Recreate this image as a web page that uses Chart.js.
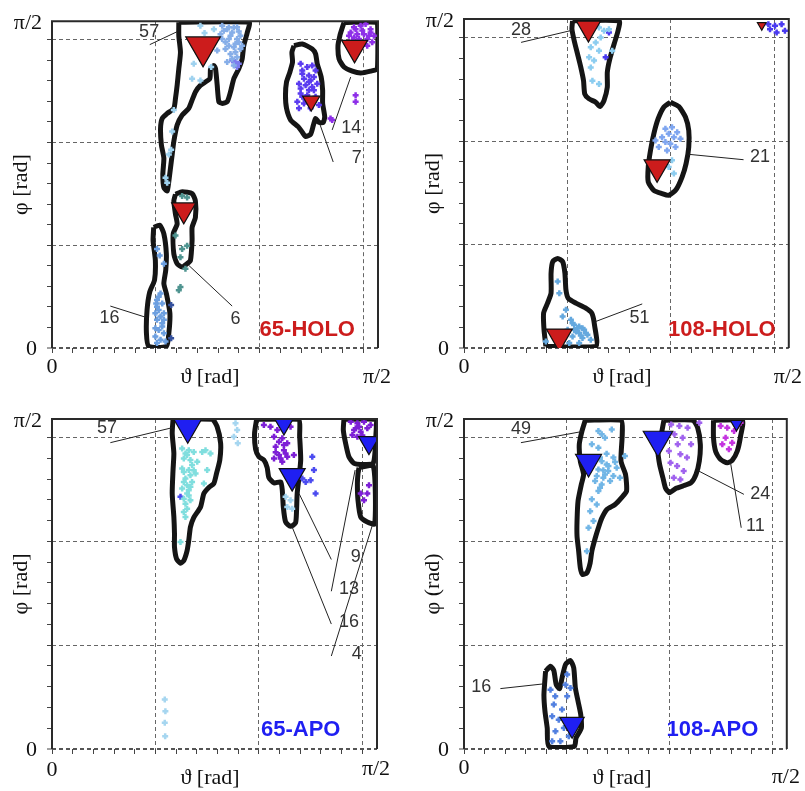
<!DOCTYPE html>
<html>
<head>
<meta charset="utf-8">
<script src="https://cdn.jsdelivr.net/npm/chart.js@4.4.0/dist/chart.umd.min.js"></script>
<style>
  body { margin: 0; background: #fff; }
  #wrap { position: relative; width: 805px; height: 791px; }
  canvas { position: absolute; }
</style>
</head>
<body>
<div id="wrap">
  <canvas id="h65" width="400" height="395" style="left:0;top:0"></canvas>
  <canvas id="h108" width="405" height="395" style="left:400px;top:0"></canvas>
  <canvas id="a65" width="400" height="396" style="left:0;top:395px"></canvas>
  <canvas id="a108" width="405" height="396" style="left:400px;top:395px"></canvas>
</div>
<script>
const HALF_PI = Math.PI / 2;
const Y_TOP = 1.59;
const tickValues = [0, 0.1, 0.2, 0.3, 0.4, 0.5, 0.6, 0.7, 0.8, 0.9, 1.0, 1.1, 1.2, 1.3, 1.4, 1.5];
const gridValues = [0.5, 1.0, 1.5];

// ---- 65-HOLO ----
const h65Contours = [
  [[0.611,1.585],[0.949,1.585],[0.941,1.535],[0.924,1.471],[0.916,1.405],[0.900,1.359],[0.876,1.310],[0.860,1.246],[0.844,1.198],[0.820,1.190],[0.804,1.198],[0.796,1.278],[0.788,1.359],[0.780,1.375],[0.764,1.359],[0.760,1.310],[0.715,1.278],[0.691,1.246],[0.675,1.206],[0.659,1.166],[0.627,1.133],[0.603,1.085],[0.587,1.005],[0.579,0.941],[0.571,0.876],[0.563,0.812],[0.555,0.764],[0.539,0.780],[0.534,0.844],[0.539,0.924],[0.527,0.989],[0.523,1.069],[0.531,1.117],[0.555,1.141],[0.587,1.166],[0.595,1.214],[0.603,1.278],[0.611,1.359],[0.619,1.439],[0.611,1.519]],
  [[0.595,0.748],[0.627,0.760],[0.675,0.751],[0.691,0.715],[0.691,0.635],[0.675,0.587],[0.675,0.523],[0.667,0.426],[0.651,0.410],[0.627,0.394],[0.603,0.410],[0.587,0.458],[0.584,0.555],[0.603,0.603],[0.595,0.651],[0.587,0.715]],
  [[0.490,0.587],[0.519,0.598],[0.539,0.555],[0.551,0.458],[0.548,0.378],[0.539,0.314],[0.551,0.265],[0.568,0.169],[0.563,0.072],[0.551,0.008],[0.466,0.008],[0.455,0.072],[0.458,0.185],[0.471,0.273],[0.494,0.330],[0.498,0.426],[0.487,0.523]],
  [[1.166,1.471],[1.206,1.479],[1.254,1.455],[1.270,1.431],[1.278,1.383],[1.297,1.318],[1.304,1.254],[1.304,1.190],[1.314,1.125],[1.307,1.098],[1.286,1.098],[1.270,1.117],[1.259,1.082],[1.246,1.040],[1.222,1.029],[1.206,1.050],[1.186,1.077],[1.150,1.109],[1.130,1.166],[1.125,1.230],[1.130,1.294],[1.146,1.342],[1.159,1.391],[1.156,1.439]],
  [[1.407,1.584],[1.568,1.584],[1.568,1.359],[1.535,1.347],[1.487,1.338],[1.447,1.347],[1.407,1.367],[1.383,1.407],[1.378,1.471],[1.387,1.519],[1.399,1.559]]
];
const h65LightBlue = [[0.820,1.568],[0.844,1.551],[0.876,1.559],[0.860,1.519],[0.892,1.503],[0.836,1.487],[0.876,1.463],[0.908,1.455],[0.860,1.431],[0.892,1.415],[0.844,1.391],[0.876,1.375],[0.908,1.519],[0.812,1.527],[0.796,1.447],[0.828,1.543],[0.868,1.535],[0.900,1.487],[0.852,1.471],[0.884,1.439],[0.868,1.407],[0.900,1.540],[0.836,1.455],[0.884,1.480],[0.916,1.471],[0.852,1.503],[0.820,1.503],[0.892,1.560],[0.852,1.560]];
const h65Cyan = [[0.715,1.568],[0.735,1.532],[0.780,1.551],[0.683,1.383],[0.675,1.310],[0.715,1.302],[0.767,1.367],[0.587,1.158],[0.579,1.053],[0.574,0.965],[0.563,0.941],[0.555,0.804],[0.547,0.828]];
const h65Violet = [[0.868,1.399],[0.900,1.383],[0.884,1.391],[0.892,1.367]];
const h65Teal = [[0.627,0.740],[0.651,0.732],[0.595,0.547],[0.627,0.482],[0.651,0.498],[0.619,0.442],[0.643,0.386],[0.619,0.297],[0.611,0.281]];
const h65Blue = [[0.506,0.482],[0.519,0.450],[0.539,0.410],[0.523,0.265],[0.506,0.233],[0.531,0.217],[0.514,0.185],[0.539,0.169],[0.506,0.137],[0.531,0.121],[0.514,0.088],[0.539,0.072],[0.523,0.040],[0.506,0.024],[0.547,0.032],[0.498,0.096],[0.523,0.153],[0.502,0.217],[0.514,0.249],[0.498,0.169],[0.531,0.104],[0.498,0.056],[0.539,0.137],[0.506,0.201]];
const h65Navy = [[0.574,0.209],[0.574,0.048]];
const h65Indigo = [[1.198,1.383],[1.230,1.367],[1.254,1.375],[1.206,1.334],[1.238,1.326],[1.262,1.318],[1.190,1.286],[1.222,1.278],[1.254,1.270],[1.278,1.286],[1.198,1.238],[1.230,1.230],[1.270,1.222],[1.182,1.198],[1.214,1.190],[1.286,1.182],[1.190,1.166],[1.246,1.166],[1.214,1.310],[1.246,1.302],[1.206,1.350],[1.238,1.294],[1.262,1.254],[1.198,1.262],[1.222,1.206],[1.254,1.198],[1.206,1.222],[1.238,1.254],[1.270,1.350]];
const h65Purple = [[1.439,1.535],[1.463,1.551],[1.487,1.568],[1.511,1.576],[1.535,1.551],[1.455,1.511],[1.503,1.527],[1.527,1.519],[1.543,1.487],[1.431,1.519],[1.479,1.503],[1.519,1.471],[1.455,1.560],[1.495,1.545],[1.519,1.503],[1.471,1.527],[1.535,1.535],[1.447,1.495],[1.551,1.519],[1.342,1.117],[1.350,1.109],[1.463,1.230],[1.463,1.198]];
const h65Triangles = [[0.728,1.465],[0.635,0.672],[1.249,1.201],[1.458,1.460]];
const h65Callouts = [
  { text: '57', from: [0.471,1.476], to: [0.603,1.539], at: [0.468,1.535] },
  { text: '16', from: [0.281,0.204], to: [0.450,0.150], at: [0.277,0.145] },
  { text: '6',  from: [0.659,0.402], to: [0.868,0.204], at: [0.884,0.141] },
  { text: '7',  from: [1.291,1.088], to: [1.355,0.905], at: [1.468,0.924] },
  { text: '14', from: [1.439,1.318], to: [1.350,1.061], at: [1.442,1.072] }
];

// ---- 108-HOLO ----
const h108Contours = [
  [[0.525,1.581],[0.750,1.581],[0.745,1.533],[0.726,1.469],[0.705,1.396],[0.693,1.332],[0.693,1.260],[0.677,1.196],[0.658,1.167],[0.637,1.188],[0.605,1.204],[0.584,1.228],[0.578,1.292],[0.565,1.356],[0.549,1.421],[0.533,1.485],[0.522,1.541]],
  [[0.998,1.188],[1.039,1.167],[1.071,1.116],[1.087,1.051],[1.087,0.971],[1.074,0.891],[1.055,0.827],[1.026,0.766],[0.990,0.738],[0.958,0.746],[0.918,0.762],[0.891,0.803],[0.891,0.875],[0.902,0.955],[0.918,1.035],[0.939,1.108],[0.966,1.164]],
  [[0.396,0.008],[0.387,0.088],[0.385,0.169],[0.404,0.217],[0.421,0.265],[0.421,0.361],[0.429,0.417],[0.453,0.433],[0.477,0.417],[0.488,0.361],[0.493,0.281],[0.504,0.241],[0.541,0.217],[0.589,0.193],[0.618,0.169],[0.631,0.112],[0.637,0.008]]
];
const h108Cyan = [[0.621,1.565],[0.653,1.549],[0.677,1.533],[0.701,1.541],[0.661,1.501],[0.637,1.477],[0.613,1.453],[0.653,1.437],[0.605,1.405],[0.629,1.389],[0.613,1.356],[0.621,1.292],[0.653,1.276],[0.717,1.437],[1.006,0.907],[0.990,0.875],[1.015,0.843]];
const h108Blue = [[0.974,1.059],[1.006,1.067],[1.031,1.043],[0.990,1.035],[0.958,1.019],[1.015,1.019],[1.047,1.011],[0.974,0.995],[0.998,0.987],[0.942,0.971],[1.023,0.971],[0.982,0.955],[0.926,1.003]];
const h108Sky = [[0.453,0.321],[0.461,0.265],[0.477,0.152],[0.493,0.185],[0.517,0.136],[0.533,0.112],[0.557,0.104],[0.501,0.088],[0.541,0.080],[0.557,0.072],[0.525,0.056],[0.573,0.048],[0.557,0.024],[0.509,0.024],[0.396,0.032],[0.613,0.040],[0.581,0.088],[0.597,0.064],[0.549,0.096],[0.565,0.060],[0.533,0.088],[0.589,0.072],[0.525,0.120],[0.573,0.096]];
const h108Indigo = [[1.472,1.565],[1.504,1.557],[1.536,1.565],[1.512,1.525],[1.552,1.533],[1.480,1.541],[0.701,1.525],[0.685,1.405]];
const h108Triangles = [[0.602,1.546],[0.934,0.873],[0.461,0.055],[1.440,1.560]];
const h108Callouts = [
  { text: '28', from: [0.276,1.477], to: [0.525,1.536], at: [0.276,1.536] },
  { text: '21', from: [1.087,0.936], to: [1.352,0.910], at: [1.432,0.923] },
  { text: '51', from: [0.637,0.128], to: [0.862,0.213], at: [0.849,0.144] }
];

// ---- 65-APO ----
const a65Contours = [
  [[0.585,1.589],[0.774,1.589],[0.798,1.553],[0.815,1.473],[0.811,1.392],[0.795,1.327],[0.782,1.279],[0.758,1.260],[0.734,1.231],[0.718,1.166],[0.685,1.115],[0.669,1.069],[0.661,1.005],[0.653,0.956],[0.637,0.908],[0.621,0.895],[0.602,0.916],[0.592,0.973],[0.592,1.037],[0.589,1.118],[0.581,1.231],[0.585,1.344],[0.589,1.424],[0.581,1.521]],
  [[0.989,1.589],[1.190,1.589],[1.197,1.505],[1.202,1.392],[1.194,1.311],[1.185,1.231],[1.182,1.150],[1.177,1.089],[1.153,1.073],[1.129,1.094],[1.118,1.166],[1.113,1.247],[1.105,1.287],[1.073,1.282],[1.048,1.308],[1.040,1.356],[1.024,1.392],[1.000,1.408],[0.984,1.444],[0.979,1.521]],
  [[1.411,1.589],[1.565,1.589],[1.565,1.505],[1.553,1.379],[1.500,1.371],[1.460,1.376],[1.435,1.408],[1.419,1.473],[1.408,1.537]],
  [[1.484,1.356],[1.553,1.363],[1.560,1.085],[1.524,1.094],[1.492,1.118],[1.479,1.198],[1.476,1.279],[1.479,1.327]]
];
const a65Cyan = [[0.629,1.448],[0.661,1.440],[0.685,1.431],[0.637,1.400],[0.669,1.392],[0.702,1.384],[0.629,1.352],[0.661,1.344],[0.694,1.327],[0.645,1.303],[0.677,1.287],[0.629,1.255],[0.661,1.247],[0.637,1.206],[0.669,1.198],[0.653,1.158],[0.645,1.118],[0.621,0.997],[0.726,1.431],[0.742,1.440],[0.766,1.424],[0.750,1.344],[0.734,1.279],[0.645,1.424],[0.677,1.368],[0.653,1.271],[0.645,1.182],[0.637,1.335],[0.685,1.343],[0.669,1.319],[0.637,1.287],[0.669,1.263],[0.653,1.231],[0.637,1.142],[0.661,1.222],[0.653,1.416]];
const a65Faint = [[0.887,1.569],[0.895,1.537],[0.879,1.505],[0.898,1.473],[0.545,0.239],[0.548,0.182],[0.545,0.126],[0.547,0.061],[1.129,1.215],[1.153,1.198],[1.137,1.166],[1.161,1.158]];
const a65Purple = [[1.024,1.561],[1.056,1.553],[1.089,1.537],[1.153,1.553],[1.073,1.505],[1.113,1.497],[1.137,1.473],[1.081,1.456],[1.121,1.440],[1.097,1.416],[1.137,1.408],[1.073,1.400],[1.113,1.384],[1.169,1.416],[1.097,1.480],[1.121,1.465],[1.081,1.430],[1.105,1.400],[1.129,1.424],[1.444,1.577],[1.476,1.569],[1.508,1.577],[1.460,1.537],[1.492,1.529],[1.524,1.545],[1.476,1.505],[1.508,1.489],[1.452,1.513],[1.540,1.561],[1.484,1.553],[1.500,1.510],[1.468,1.545],[1.532,1.271],[1.492,1.231],[1.524,1.231],[1.508,1.198]];
const a65Blue = [[1.258,1.408],[1.266,1.344],[1.250,1.295],[1.226,1.287],[1.274,1.231],[1.210,1.303],[0.621,1.215]];
const a65Triangles = [[0.656,1.550],[1.121,1.566],[1.161,1.315],[1.532,1.476]];
const a65Callouts = [
  { text: '57', from: [0.282,1.476], to: [0.581,1.548], at: [0.266,1.545] },
  { text: '9',  from: [1.194,1.231], to: [1.350,0.913], at: [1.468,0.924] },
  { text: '13', from: [1.465,1.344], to: [1.350,0.760], at: [1.435,0.771] },
  { text: '16', from: [1.161,1.069], to: [1.350,0.602], at: [1.435,0.610] },
  { text: '4',  from: [1.548,1.077], to: [1.350,0.448], at: [1.473,0.456] }
];

// ---- 108-APO ----
const a108Contours = [
  [[0.590,1.584],[0.764,1.584],[0.770,1.516],[0.764,1.387],[0.786,1.323],[0.791,1.243],[0.767,1.211],[0.735,1.178],[0.695,1.154],[0.670,1.111],[0.654,1.066],[0.638,1.014],[0.622,0.953],[0.614,0.897],[0.598,0.849],[0.577,0.841],[0.566,0.873],[0.558,0.953],[0.550,1.026],[0.550,1.098],[0.555,1.195],[0.571,1.275],[0.582,1.323],[0.566,1.387],[0.561,1.468],[0.574,1.532]],
  [[0.973,1.584],[1.113,1.584],[1.137,1.548],[1.150,1.468],[1.145,1.387],[1.129,1.323],[1.105,1.283],[1.064,1.267],[1.032,1.256],[1.000,1.235],[0.981,1.256],[0.968,1.307],[0.952,1.371],[0.944,1.436],[0.960,1.516]],
  [[1.214,1.584],[1.354,1.584],[1.346,1.508],[1.330,1.436],[1.305,1.391],[1.281,1.379],[1.249,1.395],[1.225,1.432],[1.214,1.500]],
  [[0.397,0.375],[0.421,0.399],[0.437,0.378],[0.449,0.310],[0.465,0.291],[0.477,0.342],[0.494,0.407],[0.518,0.426],[0.534,0.391],[0.542,0.294],[0.555,0.230],[0.568,0.166],[0.571,0.101],[0.545,0.053],[0.537,0.013],[0.413,0.013],[0.405,0.101],[0.394,0.182],[0.389,0.262]]
];
const a108Sky = [[0.654,1.532],[0.719,1.540],[0.686,1.500],[0.622,1.468],[0.654,1.452],[0.694,1.423],[0.727,1.404],[0.670,1.387],[0.703,1.363],[0.743,1.355],[0.654,1.347],[0.686,1.323],[0.727,1.315],[0.759,1.307],[0.638,1.291],[0.670,1.275],[0.711,1.291],[0.654,1.243],[0.622,1.203],[0.646,1.178],[0.614,1.146],[0.606,1.066],[0.630,1.098],[0.598,0.953],[0.783,1.412],[0.670,1.516],[0.735,1.383],[0.662,1.404],[0.678,1.343],[0.694,1.371],[0.646,1.315],[0.678,1.307],[0.702,1.339],[0.662,1.259]];
const a108Violet = [[1.008,1.564],[1.048,1.556],[1.088,1.548],[1.024,1.516],[1.064,1.500],[1.040,1.468],[1.105,1.468],[0.997,1.436],[1.053,1.420],[1.085,1.404],[1.005,1.379],[1.037,1.363],[1.069,1.339],[1.021,1.307],[1.053,1.299],[1.145,1.572]];
const a108Magenta = [[1.249,1.556],[1.281,1.548],[1.314,1.532],[1.273,1.500],[1.305,1.476],[1.257,1.468],[1.289,1.444],[1.330,1.556],[1.346,1.572]];
const a108Blue = [[0.421,0.286],[0.444,0.254],[0.494,0.310],[0.518,0.294],[0.502,0.254],[0.437,0.214],[0.477,0.190],[0.429,0.158],[0.461,0.141],[0.486,0.101],[0.445,0.085],[0.429,0.037],[0.469,0.037],[0.510,0.061],[0.502,0.359]];
const a108Triangles = [[0.606,1.383],[0.944,1.490],[1.326,1.566],[0.526,0.119]];
const a108Callouts = [
  { text: '49', from: [0.277,1.476], to: [0.571,1.529], at: [0.277,1.540] },
  { text: '24', from: [1.137,1.342], to: [1.362,1.227], at: [1.442,1.230] },
  { text: '11', from: [1.297,1.379], to: [1.349,1.066], at: [1.418,1.074] },
  { text: '16', from: [0.177,0.291], to: [0.389,0.314], at: [0.084,0.297] }
];

const RED = '#cc1c1c';
const BLUE = '#1f1ff2';

const toXY = arr => arr.map(([x, y]) => ({ x, y }));

function gridColor(v, isY) {
  if (v === 0) return isY ? '#555' : 'rgba(0,0,0,0)';
  return gridValues.some(g => Math.abs(g - v) < 1e-6) ? '#666' : 'rgba(0,0,0,0)';
}

function axis(isY, size) {
  return {
    type: 'linear',
    min: 0,
    max: isY ? Y_TOP : HALF_PI,
    afterBuildTicks: s => { s.ticks = tickValues.map(v => ({ value: v })); },
    afterFit: s => { if (isY) s.width = size; else s.height = size; },
    ticks: { display: false },
    grid: {
      color: c => gridColor(c.tick ? c.tick.value : -1, isY),
      lineWidth: c => (isY && c.tick && c.tick.value === 0) ? 2 : 1,
      tickColor: '#444',
      tickLength: 5,
      tickWidth: 1,
      tickBorderDash: []
    },
    border: { display: false, dash: [4, 3] }
  };
}

const decor = {
  id: 'decor',
  afterDraw(chart, args, o) {
    const { ctx, chartArea: a, scales: { x, y } } = chart;
    ctx.save();
    ctx.strokeStyle = '#2a2a2a';
    ctx.lineWidth = 2;
    ctx.beginPath();
    ctx.moveTo(a.left, a.bottom);
    ctx.lineTo(a.left, a.top);
    ctx.lineTo(a.right, a.top);
    ctx.lineTo(a.right, a.bottom);
    ctx.stroke();

    ctx.textAlign = 'center';
    ctx.textBaseline = 'middle';
    ctx.font = '18px "Liberation Sans", Arial, sans-serif';
    ctx.fillStyle = '#333';
    o.callouts.forEach(c => ctx.fillText(c.text, x.getPixelForValue(c.at[0]), y.getPixelForValue(c.at[1])));

    ctx.font = 'bold 22px "Liberation Sans", Arial, sans-serif';
    ctx.fillStyle = o.labelColor;
    ctx.fillText(o.label, x.getPixelForValue(o.labelAt[0]), y.getPixelForValue(o.labelAt[1]));

    ctx.font = '22px "Liberation Serif", "Times New Roman", serif';
    ctx.fillStyle = '#111';
    ctx.fillText('0', x.getPixelForValue(0), a.bottom + o.zeroDy);
    ctx.fillText('π/2', x.getPixelForValue(HALF_PI) - 1, a.bottom + o.maxDy);
    ctx.fillText('ϑ [rad]', a.left + 158, a.bottom + 29);
    ctx.textAlign = 'right';
    ctx.fillText('π/2', a.left - 10, a.top + 2);
    ctx.fillText('0', a.left - 15, a.bottom + 1);
    ctx.translate(a.left - 31, (a.top + a.bottom) / 2);
    ctx.rotate(-Math.PI / 2);
    ctx.textAlign = 'center';
    ctx.fillText(o.yTitle, 0, 0);
    ctx.restore();
  }
};

function makePanel(id, p) {
  const datasets = [];
  p.triangles.forEach((t, i) => datasets.push({
    data: toXY([t]),
    pointStyle: 'triangle',
    pointRotation: 180,
    pointRadius: p.triSizes[i],
    pointBackgroundColor: p.triColor,
    pointBorderColor: '#111',
    pointBorderWidth: 1.2,
    order: 0
  }));
  p.callouts.forEach(c => datasets.push({
    data: toXY([c.from, c.to]),
    showLine: true,
    borderColor: '#222',
    borderWidth: 1,
    pointRadius: 0,
    order: 1
  }));
  p.points.forEach(g => datasets.push({
    data: toXY(g.data),
    pointStyle: 'cross',
    pointRadius: 3,
    pointBorderColor: g.color,
    pointBorderWidth: 2.5,
    order: 2
  }));
  p.contours.forEach(c => datasets.push({
    data: toXY(c.concat([c[0]])),
    showLine: true,
    borderColor: '#151515',
    borderWidth: 5,
    borderJoinStyle: 'round',
    tension: 0.2,
    pointRadius: 0,
    order: 3
  }));

  new Chart(document.getElementById(id), {
    type: 'scatter',
    data: { datasets },
    options: {
      responsive: false,
      animation: false,
      events: [],
      layout: { padding: { left: 0, top: p.box.top, right: p.box.right, bottom: 0 } },
      scales: { x: axis(false, p.box.xh), y: axis(true, p.box.left) },
      plugins: {
        legend: { display: false },
        tooltip: { enabled: false },
        decor: {
          callouts: p.callouts,
          label: p.label,
          labelColor: p.triColor,
          labelAt: p.labelAt,
          yTitle: p.yTitle,
          zeroDy: p.zeroDy,
          maxDy: p.maxDy
        }
      }
    },
    plugins: [decor]
  });
}

makePanel('h65', {
  box: { left: 52, top: 17, right: 22, xh: 47 },
  contours: h65Contours,
  points: [
    { data: h65Cyan, color: '#9fd2ef' },
    { data: h65LightBlue, color: '#86aee8' },
    { data: h65Violet, color: '#7c7cee' },
    { data: h65Teal, color: '#4f9490' },
    { data: h65Blue, color: '#6c9fe0' },
    { data: h65Navy, color: '#34509c' },
    { data: h65Indigo, color: '#5b3cf0' },
    { data: h65Purple, color: '#8e2fe8' }
  ],
  triangles: h65Triangles, triSizes: [20, 14, 10, 15], triColor: RED,
  callouts: h65Callouts,
  label: '65-HOLO', labelAt: [1.230, 0.088],
  yTitle: 'φ [rad]', zeroDy: 19, maxDy: 29
});

makePanel('h108', {
  box: { left: 64, top: 19, right: 15, xh: 47 },
  contours: h108Contours,
  points: [
    { data: h108Cyan, color: '#8ccdf0' },
    { data: h108Blue, color: '#7fa6f0' },
    { data: h108Sky, color: '#64a8de' },
    { data: h108Indigo, color: '#4a3af0' }
  ],
  triangles: h108Triangles, triSizes: [14, 15, 15, 5], triColor: RED,
  callouts: h108Callouts,
  label: '108-HOLO', labelAt: [1.247, 0.088],
  yTitle: 'φ [rad]', zeroDy: 19, maxDy: 29
});

makePanel('a65', {
  box: { left: 52, top: 24, right: 23, xh: 42 },
  contours: a65Contours,
  points: [
    { data: a65Cyan, color: '#80dede' },
    { data: a65Faint, color: '#a6d6f0' },
    { data: a65Purple, color: '#7d1fd6' },
    { data: a65Blue, color: '#4b4bf0' }
  ],
  triangles: a65Triangles, triSizes: [16, 11, 15, 12], triColor: BLUE,
  callouts: a65Callouts,
  label: '65-APO', labelAt: [1.202, 0.094],
  yTitle: 'φ [rad]', zeroDy: 21, maxDy: 20
});

makePanel('a108', {
  box: { left: 64, top: 24, right: 16, xh: 42 },
  contours: a108Contours,
  points: [
    { data: a108Sky, color: '#72b6e6' },
    { data: a108Violet, color: '#a062ee' },
    { data: a108Magenta, color: '#c433e0' },
    { data: a108Blue, color: '#5280e0' }
  ],
  triangles: a108Triangles, triSizes: [15, 17, 7, 14], triColor: BLUE,
  callouts: a108Callouts,
  label: '108-APO', labelAt: [1.209, 0.093],
  yTitle: 'φ (rad)', zeroDy: 19, maxDy: 28
});
</script>
</body>
</html>
